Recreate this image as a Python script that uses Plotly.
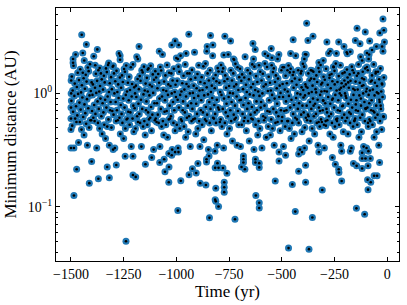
import plotly.graph_objects as go

# ---- data: (time in yr, minimum distance in AU) ----
high_tail = [(-1449,3.28),(-1427,2.70),(-1375,2.44),(-1444,2.27),(-1490,2.01),(-1490,1.86),(-1437,1.95),
 (-1385,1.77),(-1364,1.67),(-1321,1.85),(-1299,1.75),(-1267,2.15),(-1267,1.98),(-1177,2.59),(-1183,2.01),
 (-1081,2.35),(-1136,1.62),(-1022,2.67),(-1006,2.90),(-989,2.67),(-941,3.32),(-954,2.25),(-993,2.01),
 (-838,3.23),(-854,2.59),(-827,2.67),(-856,2.35),(-770,3.19),(-743,2.90),(-775,2.18),(-729,2.01),
 (-382,4.14),(-20,4.52),(-143,3.75),(-104,3.48),(-35,3.41),(-16,3.60),(-446,2.97),(-376,2.92),(-352,3.19),
 (-286,2.83),(-230,2.83),(-205,2.59),(-550,2.48),(-637,2.75),(-626,2.43),(-458,2.24),(-389,2.21),(-393,2.01),
 (-151,2.92),(-129,2.74),(-83,2.89),(-13,2.83),(-24,2.59),(-270,2.35),(-241,2.25),(-580,2.23),(-566,2.14),
 (-634,2.01),(-547,2.06),(-520,2.01),(-726,1.98),(-496,1.70),(-473,1.60),(-444,1.54),(-407,1.57),(-324,1.87),
 (-303,1.95),(-189,2.23),(-175,2.33),(-96,2.27),(-72,2.41),(-51,2.59),(-119,1.95),(-88,2.01)]

low_tail = [(-1473,0.215),(-1402,0.251),(-1413,0.162),(-1486,0.126),(-1370,0.177),(-1328,0.225),(-1318,0.181),
 (-1285,0.234),(-1243,0.279),(-1206,0.279),(-1206,0.191),(-1193,0.184),(-1239,0.0499),(-1147,0.238),
 (-1117,0.272),(-1079,0.246),(-1058,0.263),(-1054,0.204),(-1035,0.225),(-1036,0.165),(-1036,0.295),
 (-1022,0.285),(-1006,0.304),(-990,0.304),(-993,0.0929),(-979,0.170),(-940,0.192),(-924,0.217),(-906,0.199),
 (-898,0.241),(-887,0.162),(-860,0.156),(-857,0.249),(-857,0.263),(-845,0.281),(-817,0.31),(-816,0.221),
 (-800,0.221),(-805,0.243),(-813,0.146),(-816,0.116),(-813,0.112),(-800,0.101),(-843,0.0802),(-773,0.165),
 (-773,0.149),(-773,0.135),(-760,0.198),(-779,0.22),(-722,0.078),(-682,0.281),(-682,0.263),(-682,0.246),
 (-691,0.225),(-675,0.215),(-625,0.263),(-625,0.246),(-607,0.243),(-607,0.223),(-623,0.126),(-607,0.109),
 (-607,0.098),(-531,0.169),(-513,0.304),(-513,0.254),(-482,0.286),(-450,0.158),(-436,0.091),(-468,0.0434),
 (-371,0.0425),(-420,0.292),(-404,0.304),(-420,0.206),(-387,0.233),(-387,0.165),(-355,0.0807),(-324,0.304),
 (-308,0.141),(-260,0.272),(-246,0.238),(-230,0.215),(-229,0.201),(-216,0.169),(-216,0.31),(-175,0.31),
 (-160,0.241),(-145,0.23),(-146,0.0972),(-119,0.30),(-119,0.267),(-103,0.267),(-80,0.267),(-119,0.218),
 (-107,0.0862),(-91,0.23),(-89,0.31),(-93,0.174),(-78,0.165),(-91,0.142),(-62,0.188),(-48,0.188),(-36,0.246)]

band_1500 = [(-1498,0.86),(-1496,1.41),(-1494,0.52),(-1492,1.06),(-1490,0.69),(-1488,1.75),(-1486,0.33),(-1484,0.95),
 (-1482,1.22),(-1480,0.60),(-1478,2.20),(-1476,0.77),(-1474,0.56),(-1472,1.14),(-1470,0.64),(-1468,1.52),
 (-1466,0.99),(-1464,0.37),(-1462,1.31),(-1460,0.83),(-1458,0.56),(-1456,1.63),(-1454,0.72),(-1452,1.02),
 (-1450,0.48),(-1448,1.18),(-1446,0.92),(-1444,1.52),(-1442,0.62),(-1440,1.36),(-1438,0.43),(-1436,0.80),
 (-1434,1.10),(-1432,0.67),(-1430,1.46),(-1428,0.54),(-1426,1.27),(-1424,0.89),(-1422,0.35),(-1420,1.69),
 (-1418,0.74),(-1416,1.57),(-1414,0.50),(-1412,0.96),(-1410,1.81),(-1408,0.58),(-1406,1.05),(-1404,0.58),
 (-1402,1.25),(-1400,0.70),(-1500,0.75),(-1500,0.60),(-1499,1.00),(-1500,0.48),(-1499,1.30),(-1500,0.33)]

band_1400 = [(-1398,0.97),(-1396,1.20),(-1394,0.61),(-1392,2.12),(-1390,0.79),(-1388,0.57),(-1386,1.12),(-1384,0.66),
 (-1382,1.49),(-1380,1.01),(-1378,0.33),(-1376,1.29),(-1374,0.85),(-1372,0.55),(-1370,1.60),(-1368,0.73),
 (-1366,1.04),(-1364,0.49),(-1362,1.16),(-1360,0.90),(-1358,1.50),(-1356,0.63),(-1354,1.33),(-1352,0.44),
 (-1350,0.82),(-1348,1.08),(-1346,0.68),(-1344,1.43),(-1342,0.53),(-1340,1.25),(-1338,0.88),(-1336,0.40),
 (-1334,1.66),(-1332,0.75),(-1330,1.54),(-1328,0.51),(-1326,0.94),(-1324,1.78),(-1322,0.59),(-1320,1.03),
 (-1318,0.35),(-1316,1.23),(-1314,0.71),(-1312,0.84),(-1310,1.39),(-1308,0.50),(-1306,1.09),(-1304,0.70),
 (-1302,1.72),(-1300,0.32)]

band_1300 = [(-1298,0.65),(-1296,1.50),(-1294,1.00),(-1292,0.33),(-1290,1.28),(-1288,0.84),(-1286,0.57),(-1284,1.58),
 (-1282,0.71),(-1280,1.03),(-1278,0.58),(-1276,1.20),(-1274,0.91),(-1272,2.25),(-1270,0.61),(-1268,1.38),
 (-1266,0.44),(-1264,0.79),(-1262,1.12),(-1260,0.66),(-1258,1.44),(-1256,0.55),(-1254,1.26),(-1252,0.90),
 (-1250,0.40),(-1248,1.64),(-1246,0.75),(-1244,1.55),(-1242,0.49),(-1240,0.97),(-1238,1.76),(-1236,0.59),
 (-1234,1.04),(-1232,0.60),(-1230,1.24),(-1228,0.69),(-1226,0.87),(-1224,1.40),(-1222,0.53),(-1220,1.07),
 (-1218,0.68),(-1216,1.70),(-1214,0.34),(-1212,0.94),(-1210,1.21),(-1208,0.60),(-1206,1.80),(-1204,0.78),
 (-1202,0.46),(-1200,1.13)]

band_1200 = [(-1198,0.74),(-1196,1.00),(-1194,0.49),(-1192,1.17),(-1190,0.93),(-1188,2.10),(-1186,0.63),(-1184,1.34),
 (-1182,0.56),(-1180,0.81),(-1178,1.09),(-1176,0.66),(-1174,1.42),(-1172,0.55),(-1170,1.29),(-1168,0.88),
 (-1166,0.34),(-1164,1.60),(-1162,0.73),(-1160,1.53),(-1158,0.51),(-1156,0.98),(-1154,1.72),(-1152,0.57),
 (-1150,1.06),(-1148,0.43),(-1146,1.22),(-1144,0.71),(-1142,0.85),(-1140,1.37),(-1138,0.53),(-1136,1.04),
 (-1134,0.68),(-1132,1.66),(-1130,0.59),(-1128,0.96),(-1126,1.19),(-1124,0.61),(-1122,1.75),(-1120,0.76),
 (-1118,0.47),(-1116,1.15),(-1114,0.65),(-1112,1.47),(-1110,1.01),(-1108,0.32),(-1106,1.32),(-1104,0.82),
 (-1102,0.58),(-1100,1.57)]

band_1100 = [(-1098,0.60),(-1096,1.38),(-1094,0.56),(-1092,0.82),(-1090,1.11),(-1088,0.65),(-1086,1.48),(-1084,0.55),
 (-1082,1.24),(-1080,0.90),(-1078,0.34),(-1076,1.71),(-1074,0.73),(-1072,1.59),(-1070,0.51),(-1068,0.94),
 (-1066,2.20),(-1064,0.57),(-1062,1.07),(-1060,0.43),(-1058,1.27),(-1056,0.69),(-1054,0.87),(-1052,1.44),
 (-1050,0.53),(-1048,1.05),(-1046,0.70),(-1044,1.78),(-1042,0.41),(-1040,0.97),(-1038,1.20),(-1036,0.59),
 (-1034,1.52),(-1032,0.78),(-1030,0.60),(-1028,1.16),(-1026,0.63),(-1024,1.50),(-1022,1.00),(-1020,0.32),
 (-1018,1.30),(-1016,0.84),(-1014,0.55),(-1012,1.65),(-1010,0.71),(-1008,1.03),(-1006,0.47),(-1004,1.19),
 (-1002,0.93),(-1000,2.05)]

band_1000 = [(-998,0.53),(-996,1.29),(-994,0.88),(-992,0.33),(-990,1.72),(-988,0.75),(-986,1.55),(-984,0.49),
 (-982,0.97),(-980,2.15),(-978,0.59),(-976,1.04),(-974,0.57),(-972,1.23),(-970,0.71),(-968,0.85),(-966,1.43),
 (-964,0.51),(-962,1.08),(-960,0.68),(-958,1.80),(-956,0.41),(-954,0.94),(-952,1.21),(-950,0.61),(-948,1.50),
 (-946,0.78),(-944,0.46),(-942,1.15),(-940,0.63),(-938,1.50),(-936,1.00),(-934,0.34),(-932,1.33),(-930,0.82),
 (-928,0.57),(-926,1.61),(-924,0.73),(-922,1.01),(-920,0.59),(-918,1.17),(-916,0.91),(-914,2.30),(-912,0.60),
 (-910,1.37),(-908,0.44),(-906,0.81),(-904,1.11),(-902,0.66),(-900,1.48)]

band_900 = [(-898,0.49),(-896,0.95),(-894,1.77),(-892,0.57),(-890,1.06),(-888,0.34),(-886,1.26),(-884,0.71),
 (-882,0.87),(-880,1.39),(-878,0.53),(-876,1.07),(-874,0.68),(-872,1.73),(-870,0.39),(-868,0.96),(-866,1.23),
 (-864,0.59),(-862,1.83),(-860,0.76),(-858,0.57),(-856,1.13),(-854,0.65),(-852,1.50),(-850,0.98),(-848,0.32),
 (-846,1.30),(-844,0.84),(-842,0.55),(-840,1.60),(-838,0.73),(-836,1.03),(-834,0.47),(-832,1.17),(-830,0.91),
 (-828,2.15),(-826,0.61),(-824,1.35),(-822,0.60),(-820,0.79),(-818,1.11),(-816,0.66),(-814,1.45),(-812,0.55),
 (-810,1.28),(-808,0.88),(-806,0.35),(-804,1.67),(-802,0.75),(-800,1.56)]

band_800 = [(-798,0.72),(-796,1.24),(-794,0.56),(-792,1.03),(-790,0.59),(-788,1.78),(-786,0.97),(-784,0.51),
 (-782,1.55),(-780,0.73),(-778,1.66),(-776,0.33),(-774,0.90),(-772,1.28),(-770,0.55),(-768,1.44),(-766,0.68),
 (-764,1.12),(-762,0.81),(-760,0.44),(-758,1.34),(-756,0.63),(-754,2.20),(-752,0.93),(-750,1.16),(-748,0.49),
 (-746,1.01),(-744,0.71),(-742,1.60),(-740,0.57),(-738,0.84),(-736,1.30),(-734,0.38),(-732,1.00),(-730,1.50),
 (-728,0.65),(-726,1.15),(-724,0.59),(-722,0.78),(-720,1.82),(-718,0.61),(-716,1.20),(-714,0.94),(-712,0.35),
 (-710,1.70),(-708,0.70),(-706,1.07),(-704,0.53),(-702,1.39),(-700,0.87)]

band_700 = [(-698,1.65),(-696,0.34),(-694,0.88),(-692,1.29),(-690,0.53),(-688,1.47),(-686,0.66),(-684,1.09),
 (-682,0.79),(-680,0.57),(-678,1.38),(-676,0.61),(-674,2.10),(-672,0.91),(-670,1.19),(-668,0.47),(-666,1.03),
 (-664,0.73),(-662,1.60),(-660,0.57),(-658,0.82),(-656,1.33),(-654,0.38),(-652,0.98),(-650,1.50),(-648,0.65),
 (-646,1.13),(-644,0.60),(-642,0.76),(-640,1.80),(-638,0.59),(-636,1.21),(-634,0.96),(-632,0.32),(-630,1.72),
 (-628,0.68),(-626,1.07),(-624,0.53),(-622,1.42),(-620,0.85),(-618,0.71),(-616,1.26),(-614,0.43),(-612,1.04),
 (-610,0.57),(-608,1.77),(-606,0.95),(-604,0.49),(-602,1.55),(-600,0.75)]

band_600 = [(-598,0.84),(-596,1.30),(-594,0.33),(-592,1.00),(-590,1.49),(-588,0.63),(-586,1.15),(-584,0.58),
 (-582,0.78),(-580,1.83),(-578,0.61),(-576,1.20),(-574,0.41),(-572,0.41),(-570,1.71),(-568,0.70),(-566,1.05),
 (-564,0.51),(-562,1.40),(-560,0.87),(-558,0.69),(-556,1.24),(-554,0.43),(-552,1.06),(-550,0.59),(-548,1.77),
 (-546,0.97),(-544,0.49),(-542,1.54),(-540,0.73),(-538,1.66),(-536,0.35),(-534,0.90),(-532,1.26),(-530,0.55),
 (-528,1.44),(-526,0.68),(-524,1.11),(-522,0.81),(-520,0.56),(-518,1.35),(-516,0.63),(-514,2.20),(-512,0.93),
 (-510,1.17),(-508,0.47),(-506,1.01),(-504,0.71),(-502,1.60),(-500,0.57)]

band_500 = [(-498,0.62),(-496,1.21),(-494,0.93),(-492,0.34),(-490,1.70),(-488,0.70),(-486,1.08),(-484,0.51),
 (-482,1.43),(-480,0.85),(-478,0.71),(-476,1.23),(-474,0.57),(-472,1.04),(-470,0.57),(-468,1.76),(-466,0.95),
 (-464,0.49),(-462,1.53),(-460,0.75),(-458,1.65),(-456,0.40),(-454,0.88),(-452,1.28),(-450,0.55),(-448,1.45),
 (-446,0.66),(-444,1.12),(-442,0.79),(-440,0.44),(-438,1.35),(-436,0.61),(-434,2.15),(-432,0.91),(-430,1.19),
 (-428,0.59),(-426,1.00),(-424,0.73),(-422,1.60),(-420,0.55),(-418,0.82),(-416,1.32),(-414,0.32),(-412,0.98),
 (-410,1.50),(-408,0.65),(-406,1.13),(-404,0.46),(-402,0.78),(-400,1.82)]

band_400 = [(-398,1.07),(-396,0.68),(-394,1.72),(-392,0.33),(-390,0.96),(-388,1.20),(-386,0.61),(-384,2.20),
 (-382,0.78),(-380,0.58),(-378,1.12),(-376,0.65),(-374,1.50),(-372,1.00),(-370,0.38),(-368,1.30),(-366,0.84),
 (-364,0.57),(-362,1.60),(-360,0.73),(-358,1.03),(-356,0.49),(-354,1.17),(-352,0.90),(-350,1.55),(-348,0.63),
 (-346,1.34),(-344,0.44),(-342,0.81),(-340,1.09),(-338,0.66),(-336,1.44),(-334,0.55),(-332,1.26),(-330,0.88),
 (-328,0.35),(-326,1.67),(-324,0.75),(-322,1.55),(-320,0.51),(-318,0.97),(-316,1.78),(-314,0.59),(-312,1.04),
 (-310,0.56),(-308,1.24),(-306,0.71),(-304,0.87),(-302,1.40),(-300,0.53),(-397,0.92),(-385,1.15),(-373,0.63),
 (-361,1.35),(-349,0.78),(-337,1.02),(-325,0.56),(-313,1.20),(-303,0.86),(-391,0.50),(-355,1.58),(-319,0.70)]

band_300 = [(-298,0.33),(-296,1.32),(-294,0.82),(-292,0.57),(-290,1.65),(-288,0.73),(-286,1.04),(-284,0.58),
 (-282,1.19),(-280,0.93),(-278,2.25),(-276,0.63),(-274,1.37),(-272,0.44),(-270,0.81),(-268,1.11),(-266,0.66),
 (-264,1.48),(-262,0.55),(-260,1.28),(-258,0.90),(-256,0.41),(-254,1.70),(-252,0.75),(-250,1.58),(-248,0.51),
 (-246,0.97),(-244,1.83),(-242,0.59),(-240,1.06),(-238,0.57),(-236,1.26),(-234,0.71),(-232,0.87),(-230,1.42),
 (-228,0.53),(-226,1.08),(-224,0.70),(-222,1.77),(-220,0.35),(-218,0.96),(-216,1.23),(-214,0.61),(-212,1.50),
 (-210,0.78),(-208,0.46),(-206,1.15),(-204,0.65),(-202,1.53),(-200,1.00),(-297,1.05),(-285,0.68),(-273,1.45),
 (-261,0.88),(-249,1.20),(-237,0.60),(-225,1.00),(-213,0.77),(-203,1.30),(-291,0.52),(-255,1.72),(-219,1.12)]

band_200 = [(-198,0.57),(-196,1.20),(-194,0.91),(-192,2.30),(-190,0.61),(-188,1.38),(-186,0.44),(-184,0.81),
 (-182,1.12),(-180,0.68),(-178,1.47),(-176,0.55),(-174,1.29),(-172,0.88),(-170,0.33),(-168,1.72),(-166,0.75),
 (-164,1.60),(-162,0.51),(-160,0.97),(-158,1.52),(-156,0.57),(-154,1.07),(-152,0.60),(-150,1.27),(-148,0.71),
 (-146,0.87),(-144,1.43),(-142,0.53),(-140,1.08),(-138,0.70),(-136,1.80),(-134,0.41),(-132,0.96),(-130,1.24),
 (-128,0.61),(-126,2.10),(-124,0.78),(-122,0.46),(-120,1.16),(-118,0.65),(-116,1.55),(-114,1.00),(-112,0.34),
 (-110,1.33),(-108,0.84),(-106,0.57),(-104,1.66),(-102,0.73),(-100,1.04),(-197,0.95),(-185,1.25),(-173,0.66),
 (-161,1.10),(-149,0.80),(-137,1.50),(-125,0.90),(-113,1.18),(-103,0.74),(-191,1.62),(-155,0.58),(-119,1.36)]

band_100 = [(-98,0.33),(-96,1.71),(-94,0.75),(-92,1.60),(-90,0.51),(-88,0.97),(-86,2.20),(-84,0.59),(-82,1.06),
 (-80,0.57),(-78,1.27),(-76,0.71),(-74,0.87),(-72,1.44),(-70,0.53),(-68,1.08),(-66,0.70),(-64,1.80),(-62,0.41),
 (-60,0.96),(-58,1.24),(-56,0.61),(-54,1.55),(-52,0.78),(-50,0.46),(-48,1.16),(-46,0.65),(-44,1.55),(-42,1.00),
 (-40,0.35),(-38,1.33),(-36,0.84),(-34,0.57),(-32,1.66),(-30,0.73),(-28,1.04),(-26,0.48),(-24,1.20),(-22,0.93),
 (-20,2.35),(-18,0.63),(-16,1.38),(-97,1.10),(-85,0.82),(-73,1.30),(-61,0.68),(-49,1.02),(-37,0.88),(-25,1.22),
 (-17,0.62),(-91,0.55),(-55,1.50),(-31,0.78)]

x_ticks = [-1500, -1250, -1000, -750, -500, -250, 0]
y_ticks = [0.1, 1]
y_tick_text = ["10<sup>\u22121</sup>", "10<sup>0</sup>"]
y_minor = [0.04, 0.05, 0.06, 0.07, 0.08, 0.09, 0.2, 0.3, 0.4, 0.5, 0.6, 0.7, 0.8, 0.9, 2, 3, 4, 5]

points = (band_1500 + band_1400 + band_1300 + band_1200 + band_1100 + band_1000 + band_900 + band_800 +
          band_700 + band_600 + band_500 + band_400 + band_300 + band_200 + band_100 + high_tail + low_tail)
times = [p[0] for p in points]
dists = [p[1] for p in points]

fig = go.Figure()
fig.add_trace(go.Scatter(x=times, y=dists, mode="markers",
                         marker=dict(size=7, color="#1f77b4", line=dict(width=0)), hoverinfo="skip"))
fig.add_trace(go.Scatter(x=times, y=dists, mode="markers",
                         marker=dict(size=2.6, color="black", line=dict(width=0)), hoverinfo="skip"))

font = "Liberation Serif, Times New Roman, serif"
fig.update_layout(width=407, height=305, margin=dict(l=56, r=8, t=7, b=43),
                  plot_bgcolor="white", paper_bgcolor="white", showlegend=False,
                  font=dict(family=font, size=14, color="black"))
fig.update_xaxes(range=[-1571, 56], tickmode="array", tickvals=x_ticks, ticks="inside", ticklen=4,
                 tickwidth=1, tickcolor="black", showline=True, linecolor="black", linewidth=1,
                 mirror="allticks", showgrid=False, zeroline=False,
                 title=dict(text="Time (yr)", standoff=4))
fig.update_yaxes(type="log", range=[-1.476, 0.752], tickmode="array", tickvals=y_ticks, ticktext=y_tick_text,
                 ticks="inside", ticklen=4, tickwidth=1, tickcolor="black", showline=True, linecolor="black",
                 linewidth=1, mirror="allticks", showgrid=False, zeroline=False,
                 minor=dict(tickmode="array", tickvals=y_minor, ticks="inside", ticklen=2, tickcolor="black"),
                 title=dict(text="Minimum distance (AU)", standoff=6))

fig.write_html("out.html", config={"displayModeBar": False},
               post_script="document.body.style.margin='0';")
